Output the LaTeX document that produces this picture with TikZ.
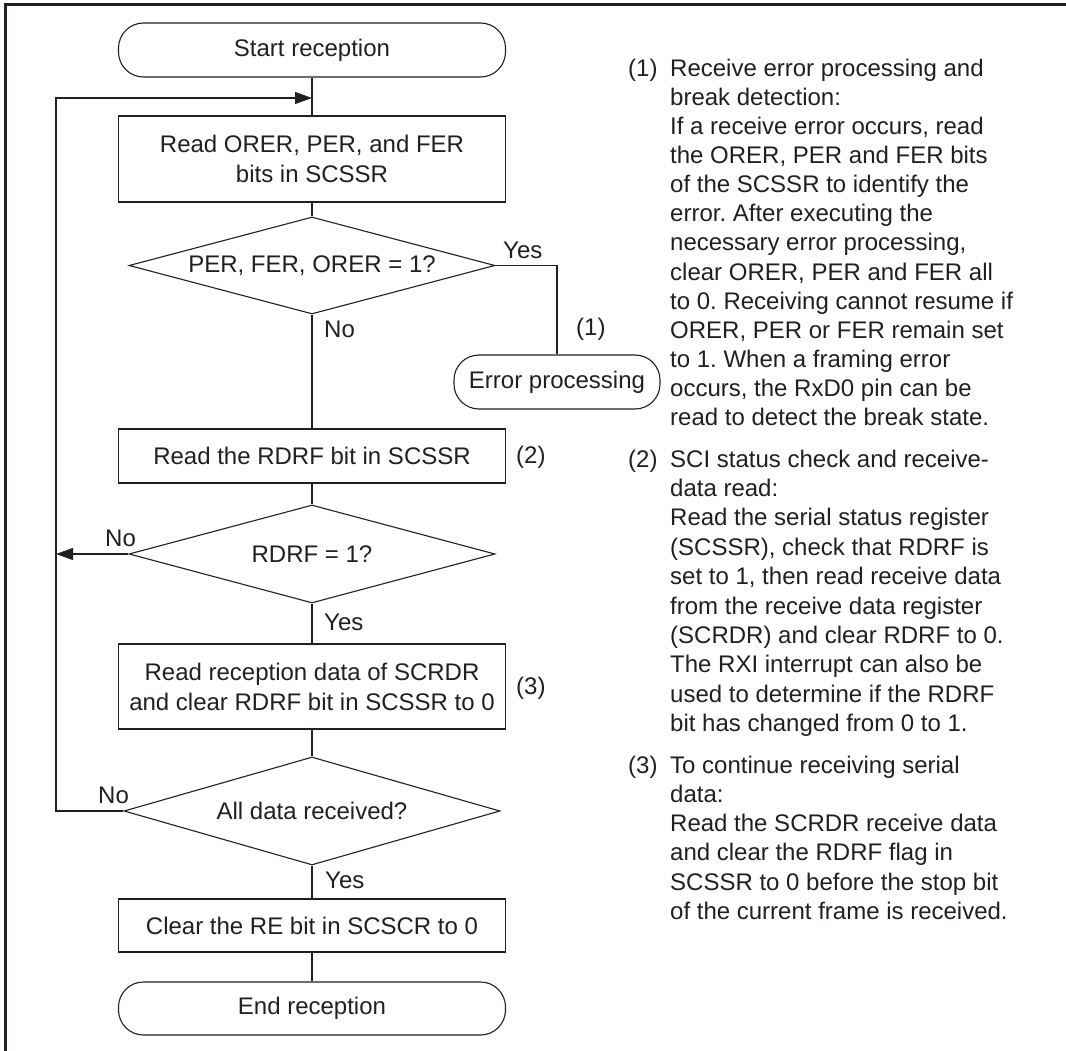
\documentclass[tikz,border=0pt]{standalone}
\usepackage{fontspec}
\setmainfont{Liberation Sans}
\usetikzlibrary{shapes.geometric,arrows.meta}
\definecolor{ink}{RGB}{35,31,32}
\frenchspacing
\begin{document}
\begin{tikzpicture}[x=1pt,y=-1pt,
  every node/.style={font=\fontsize{24}{30}\selectfont, text=ink},
  box/.style={draw=ink, line width=1.1pt, rectangle, minimum width=387pt, align=center, inner sep=0pt},
  term/.style={draw=ink, line width=1.1pt, rectangle, rounded corners=25pt, minimum height=54pt, inner sep=0pt},
  dia/.style={draw=ink, line width=1.1pt, diamond, inner sep=0pt},
  conn/.style={draw=ink, line width=1.1pt},
  arr/.style={conn, -{Triangle[length=17pt,width=12pt]}},
  lbl/.style={anchor=west, inner sep=0pt},
  note/.style={anchor=base west, inner sep=0pt},
]
\useasboundingbox (0,0) rectangle (1066,1051);
\draw[ink, line width=3pt] (5,1051) -- (5,5) -- (1066,5);

% flowchart nodes
\node[term, minimum width=387pt] (start) at (312,50) {Start reception};
\node[box, minimum height=86pt] (b1) at (312,159) {Read ORER, PER, and FER\\bits in SCSSR};
\node[dia, minimum width=366pt, minimum height=97pt] (d1) at (312,265.5) {};
\node (d1t) at (d1.center) {PER, FER, ORER = 1?};
\node[term, minimum width=206pt] (err) at (557,382) {Error processing};
\node[box, minimum height=54pt] (b2) at (312,456) {Read the RDRF bit in SCSSR};
\node[dia, minimum width=366pt, minimum height=98pt] (d2) at (312,554) {};
\node (d2t) at (d2.center) {RDRF = 1?};
\node[box, minimum height=85pt] (b3) at (312,686.5) {Read reception data of SCRDR\\and clear RDRF bit in SCSSR to 0};
\node[dia, minimum width=376pt, minimum height=108pt] (d3) at (312,811) {};
\node (d3t) at (d3.center) {All data received?};
\node[box, minimum height=53pt] (b4) at (312,925.5) {Clear the RE bit in SCSCR to 0};
\node[term, minimum width=387pt, minimum height=53pt] (end) at (312,1008.5) {End reception};

% connectors
\coordinate (j) at (312,98);
\coordinate (lx) at (56,98);
\draw[conn] (start) -- (b1);
\draw[conn] (b1) -- (d1);
\draw[conn] (d1.east) -| (err.north);
\draw[conn] (d1) -- (b2);
\draw[conn] (b2) -- (d2);
\draw[conn] (d2) -- (b3);
\draw[conn] (b3) -- (d3);
\draw[conn] (d3) -- (b4);
\draw[conn] (b4) -- (end);
\draw[arr] (d3.west) -| (lx) -- (j);
\draw[arr] (d2.west) -- (d2.west -| lx);

% labels
\node[lbl] (y1) at (503,250) {Yes};
\node[lbl] (n1) at (324,329) {No};
\node[lbl] (p1) at (576,329) {(1)};
\node[lbl] (p2) at (516,457) {(2)};
\node[lbl] (n2) at (105,538) {No};
\node[lbl] (y2) at (324,622) {Yes};
\node[lbl] (p3) at (516,688) {(3)};
\node[lbl] (n3) at (98,795) {No};
\node[lbl] (y3) at (325,880) {Yes};

% notes
\node[note] (m1) at (628,77) {(1)};
\foreach \t [count=\i from 0] in {{Receive error processing and},{break detection:},{If a receive error occurs, read},{the ORER, PER and FER bits},{of the SCSSR to identify the},{error. After executing the},{necessary error processing,},{clear ORER, PER and FER all},{to 0. Receiving cannot resume if},{ORER, PER or FER remain set},{to 1. When a framing error},{occurs, the RxD0 pin can be},{read to detect the break state.}}
  \node[note] (ta\i) at (670,{77+29*\i}) {\t};
\node[note] (m2) at (628,467) {(2)};
\foreach \t [count=\i from 0] in {{SCI status check and receive-},{data read:},{Read the serial status register},{(SCSSR), check that RDRF is},{set to 1, then read receive data},{from the receive data register},{(SCRDR) and clear RDRF to 0.},{The RXI interrupt can also be},{used to determine if the RDRF},{bit has changed from 0 to 1.}}
  \node[note] (tb\i) at (670,{467+29.4*\i}) {\t};
\node[note] (m3) at (628,773) {(3)};
\foreach \t [count=\i from 0] in {{To continue receiving serial},{data:},{Read the SCRDR receive data},{and clear the RDRF flag in},{SCSSR to 0 before the stop bit},{of the current frame is received.}}
  \node[note] (tc\i) at (670,{773+29.3*\i}) {\t};
\end{tikzpicture}
\end{document}
